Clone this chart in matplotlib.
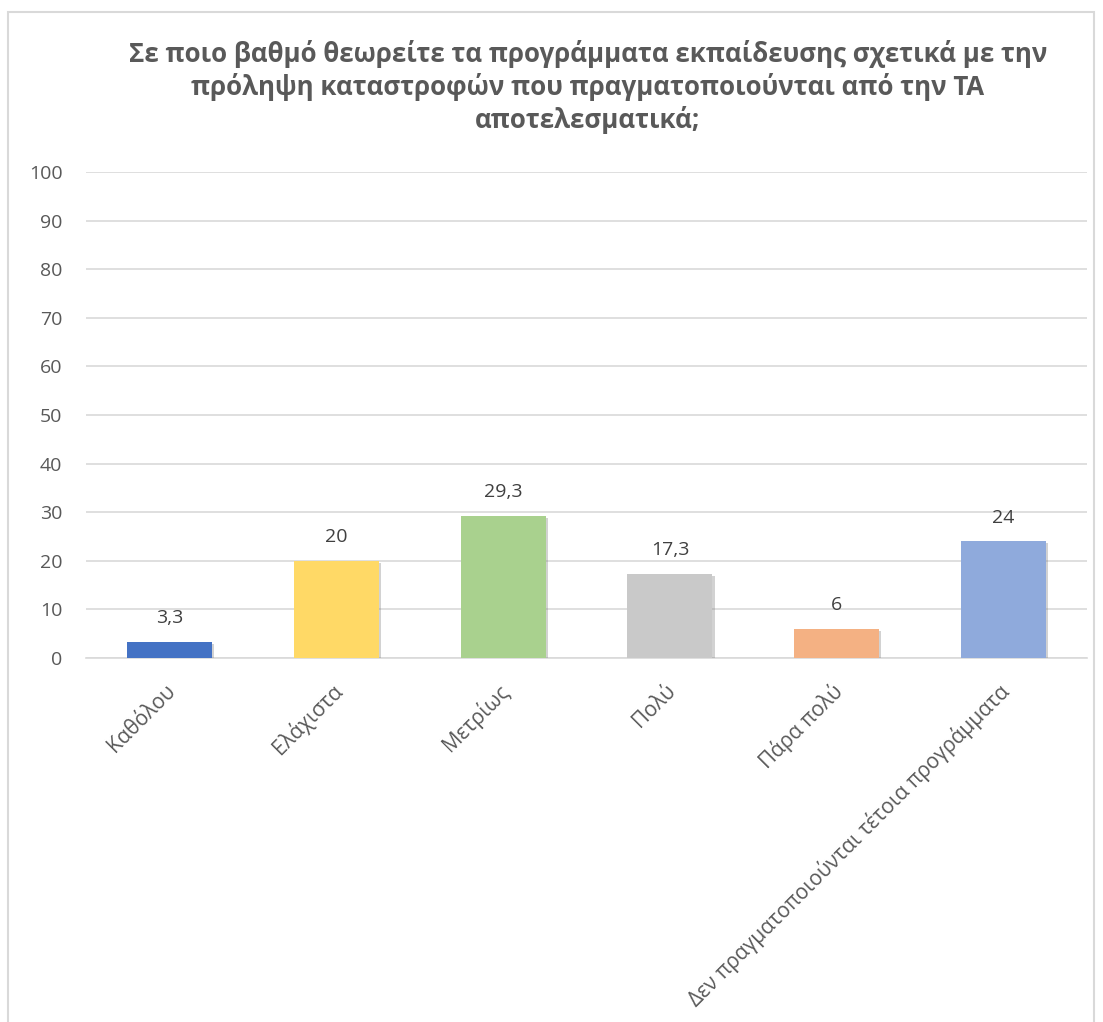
import matplotlib
matplotlib.use("Agg")
import matplotlib.pyplot as plt
import matplotlib.patheffects as pe
import matplotlib.transforms as mtransforms
from matplotlib.patches import Rectangle

categories = ["Καθόλου", "Ελάχιστα", "Μετρίως", "Πολύ", "Πάρα πολύ",
              "Δεν πραγματοποιούνται τέτοια προγράμματα"]
values = [3.3, 20, 29.3, 17.3, 6, 24]
labels = ["3,3", "20", "29,3", "17,3", "6", "24"]
colors = ["#4472C4", "#FFD966", "#A9D18E", "#C9C9C9", "#F4B183", "#8FAADC"]
yticks = [0, 10, 20, 30, 40, 50, 60, 70, 80, 90, 100]
title = ("Σε ποιο βαθμό θεωρείτε τα προγράμματα εκπαίδευσης σχετικά με την\n"
         "πρόληψη καταστροφών που πραγματοποιούνται από την ΤΑ\n"
         "αποτελεσματικά;")

plt.rcParams['font.family'] = ['Open Sans', 'DejaVu Sans']

W, H = 1103, 1022
fig = plt.figure(figsize=(W / 100, H / 100), dpi=100)

# chart border
fig.patches.append(Rectangle((8 / W, -0.01), (1094 - 8) / W, (H - 12) / H + 0.01,
                             transform=fig.transFigure, fill=False,
                             edgecolor="#D9D9D9", linewidth=1.5))

ax = fig.add_axes([86 / W, 1 - 658 / H, (1087 - 86) / W, (658 - 172) / H])
x = list(range(len(categories)))
bars = ax.bar(x, values, width=0.51, color=colors, zorder=3)
for b in bars:
    b.set_path_effects([pe.SimplePatchShadow(offset=(1.5, -1.5), shadow_rgbFace="#808080", alpha=0.35),
                        pe.Normal()])
for xi, v, lab in zip(x, values, labels):
    ax.annotate(lab, (xi, v), xytext=(0, 17), textcoords="offset points",
                ha="center", va="center", fontsize=14, color="#404040")

ax.set_ylim(0, 100)
ax.set_xlim(-0.5, len(categories) - 0.5)
ax.set_yticks(yticks)
ax.yaxis.grid(True, color="#D9D9D9", linewidth=1.2, zorder=0)
ax.set_axisbelow(True)
for s in ["top", "right", "left"]:
    ax.spines[s].set_visible(False)
ax.spines["bottom"].set_color("#D9D9D9")
ax.spines["bottom"].set_linewidth(1.2)
ax.tick_params(axis="y", length=0, pad=17, labelsize=14, labelcolor="#595959")
ax.tick_params(axis="x", length=0, pad=0, labelsize=15, labelcolor="#595959")
ax.set_xticks(x)
ax.set_xticklabels(categories, rotation=45, ha="right", va="center", rotation_mode="anchor")
offset = mtransforms.ScaledTranslation(3 / 100, -30 / 100, fig.dpi_scale_trans)
for t in ax.get_xticklabels():
    t.set_transform(t.get_transform() + offset)

fig.text(588 / W, 1 - 87 / H, title, ha="center", va="center", fontsize=18.6,
         fontweight="bold", color="#595959", linespacing=1.22)

fig.savefig("out.png", dpi=100)
